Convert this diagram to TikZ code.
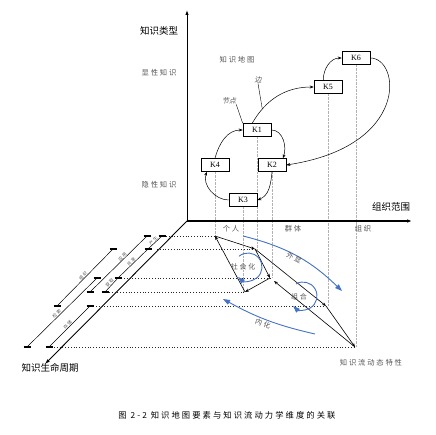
\documentclass[tikz,border=0pt]{standalone}
\usepackage{fontspec}
\setmainfont{Liberation Serif}
\newfontfamily\cjk{Noto Sans CJK SC}
\newfontfamily\cjkwide[LetterSpace=25]{Noto Sans CJK SC}
\newfontfamily\cjkslant[FakeSlant=0.2]{Noto Sans CJK SC}
\usetikzlibrary{arrows.meta,shadows,backgrounds}
\definecolor{flowblue}{RGB}{68,114,196}
\definecolor{labelgray}{RGB}{85,85,85}

\begin{document}
\begin{tikzpicture}[x=1pt,y=1pt]
    \tikzstyle{kbox}=[draw, rectangle, line width=0.6pt, fill=white, font=\fontsize{8}{9}\selectfont, minimum width=28pt, minimum height=13pt, inner sep=0, drop shadow={shadow xshift=1pt, shadow yshift=-1pt, opacity=1, fill=black}];
    \tikzstyle{mainaxis}=[line width=0.9pt, -{Latex[length=5pt,width=3.5pt]}];
    \tikzstyle{kedge}=[line width=0.5pt, -{Stealth[length=4pt,width=3pt]}];
    \tikzstyle{flow}=[line width=0.6pt, -{Stealth[length=4pt,width=3pt]}];
    \tikzstyle{guide}=[densely dotted, gray!60, line width=0.4pt];
    \tikzstyle{levelline}=[dotted, line width=0.8pt, black!85];
    \tikzstyle{stage}=[line width=0.5pt];
    \tikzstyle{stagetick}=[line width=1.3pt];
    \tikzstyle{cycleflow}=[flowblue, line width=0.9pt, -{Triangle[length=7pt,width=5pt]}];
    \tikzstyle{axislabel}=[font=\cjk\fontsize{9.5}{11}\selectfont, inner sep=0];
    \tikzstyle{smalllabel}=[font=\cjkwide\fontsize{7.3}{8}\selectfont, text=labelgray, inner sep=0];
    \tikzstyle{pinlabel}=[font=\cjkslant\fontsize{7}{8}\selectfont, text=labelgray, inner sep=0];
    \tikzstyle{flowlabel}=[font=\cjkwide\fontsize{7}{8}\selectfont, text=labelgray, inner sep=0];
    \tikzstyle{stagelabel}=[font=\cjkwide\fontsize{4.3}{5}\selectfont, text=labelgray, inner sep=0.3pt];

    \useasboundingbox (0,0) rectangle (436,434);

    % axes
    \coordinate (o) at (187,213);
    \coordinate (ytop) at (187,424);
    \coordinate (xend) at (412,213);
    \coordinate (zend) at (45,70);
    \draw[mainaxis] (o) -- (ytop);
    \draw[mainaxis, line width=1.4pt] (o) -- (xend);
    \draw[mainaxis] (o) -- (zend);

    \node[axislabel] (ytitle) at (159,403) {知识类型};
    \node[axislabel] (xtitle) at (391,227) {组织范围};
    \node[axislabel] (ztitle) at (50,66) {知识生命周期};
    \node[smalllabel] (explicit) at (159,361) {显性知识};
    \node[smalllabel] (tacit) at (159,249) {隐性知识};
    \node[smalllabel] (person) at (231,205) {个人};
    \node[smalllabel] (group) at (293,205) {群体};
    \node[smalllabel] (org) at (363,205) {组织};
    \node[smalllabel] (kmap) at (237,374) {知识地图};
    \node[smalllabel] (dyn) at (371,71) {知识流动态特性};
    \node[font=\cjkwide\fontsize{8.3}{10}\selectfont, inner sep=0] (caption) at (227,19) {图 2-2 知识地图要素与知识流动力学维度的关联};

    % knowledge map
    \node[kbox] (k1) at (257,304) {K1};
    \node[kbox] (k2) at (272,269) {K2};
    \node[kbox] (k3) at (243,234) {K3};
    \node[kbox] (k4) at (215,269) {K4};
    \node[kbox] (k5) at (328,347) {K5};
    \node[kbox] (k6) at (356,376) {K6};

    \draw[kedge] (k1.125) to[out=60,in=180] coordinate[pos=0.22] (bianpt) (k5.west);
    \draw[kedge] (k5.125) to[out=90,in=180] (k6.west);
    \draw[kedge] (k6.east) .. controls +(30,0) and +(124,19) .. (k2.east);
    \draw[kedge] (k1.east) to[out=0,in=70] (k2.32);
    \draw[kedge] (k2.south) to[out=-95,in=20] (k3.east);
    \draw[kedge] (k3.west) to[out=180,in=-110] (k4.220);
    \draw[kedge] (k4.north) to[out=75,in=180] (k1.west);

    \node[pinlabel] (bian) at (258,354) {边};
    \node[pinlabel] (jiedian) at (229,333) {节点};
    \draw[line width=0.4pt] (bian.south) -- (bianpt)
          (jiedian.south east) -- (k1.north west);

    % flow dynamics
    \coordinate (p1) at (215,198);
    \coordinate (p2) at (255,185);
    \coordinate (p3) at (270,156);
    \coordinate (p3b) at (274,153);
    \coordinate (p4) at (245,142);
    \coordinate (p5) at (326,128);
    \coordinate (p6) at (355,87);

    \begin{pgfonlayer}{background}
    \draw[guide] (k4.south) -- (k4.south |- p1)
          (k3.south) -- (k3.south |- p4)
          (k1.south) -- (k1.south |- p2)
          (k2.south) -- (k2.south |- p3)
          (k5.south) -- (k5.south |- p5)
          (k6.south) -- (k6.south |- p6);
    \end{pgfonlayer}

    \draw[flow] (p4) -- (p1);
    \draw[flow] (p1) -- (p2);
    \draw[flow] (p2) -- (p3);
    \draw[flow] (p3) -- (p4);
    \draw[flow] (p2) -- (p5);
    \draw[flow] (p5) -- (p6);
    \draw[flow] (p6) -- (p3b);

    % life cycle stages
    \coordinate (lv1) at (166,198);
    \coordinate (lv2) at (157,185);
    \coordinate (lv3) at (124,156);
    \coordinate (lv4) at (109,142);
    \coordinate (lv5) at (96,128);
    \coordinate (lv6) at (54,87);
    \draw[levelline] (lv1) -- (p1) (lv2) -- (p2) (lv3) -- (p3)
          (lv4) -- (p4) (lv5) -- (p5) (lv6) -- (p6);

    \coordinate (jsA) at (27,87);   \coordinate (jsB) at (97,156);
    \coordinate (zzA) at (57,128);  \coordinate (zzB) at (113,185);
    \coordinate (ccA) at (49,87);   \coordinate (ccB) at (90,128);
    \coordinate (yyA) at (90,142);  \coordinate (yyB) at (147,198);
    \coordinate (hqA) at (105,142); \coordinate (hqB) at (118,156);
    \coordinate (gxB) at (148,185);
    \coordinate (csB) at (162,198);

    \draw[stage] (jsA) -- (jsB) node[pos=0.45, above, sloped, stagelabel] {检索};
    \draw[stage] (zzA) -- (zzB) node[pos=0.5, above, sloped, stagelabel] {组织};
    \draw[stage] (ccA) -- (ccB) node[pos=0.5, above, sloped, stagelabel] {存储};
    \draw[stage] (yyA) -- (yyB) node[pos=0.6, above, sloped, stagelabel] {应用};
    \draw[stage] (hqA) -- (hqB) node[midway, above, sloped, stagelabel] {获取};
    \draw[stage] (hqB) -- (gxB) node[midway, above, sloped, stagelabel] {共享};
    \draw[stage] (gxB) -- (csB) node[midway, above, sloped, stagelabel] {产生};
    \foreach \t in {jsA,jsB,zzA,zzB,ccA,ccB,yyA,yyB,hqA,hqB,gxB,csB}
        \draw[stagetick] ([xshift=-3.5pt]\t) -- ([xshift=3.5pt]\t);

    % SECI arrows
    \coordinate (wxA) at (243,198);
    \coordinate (wxB) at (342,143);
    \coordinate (nhA) at (315,100);
    \coordinate (nhB) at (223,135);
    \coordinate (shc) at (248,167);
    \coordinate (zhc) at (303,138);
    \draw[cycleflow] (wxA) to[bend left=15] (wxB);
    \draw[cycleflow] (nhA) to[bend left=8] (nhB);
    \draw[cycleflow] ([shift={(130:14)}]shc) arc[start angle=130, end angle=-135, radius=14];
    \draw[cycleflow] ([shift={(120:14)}]zhc) arc[start angle=120, end angle=-135, radius=14];
    \node[flowlabel, rotate=-28] (waixian) at (294,176) {外显};
    \node[flowlabel, rotate=-20] (neihua) at (263,110) {内化};
    \node[flowlabel] (shehui) at (243,167) {社会化};
    \node[flowlabel] (zuhe) at (299,137) {组合};
\end{tikzpicture}
\end{document}
